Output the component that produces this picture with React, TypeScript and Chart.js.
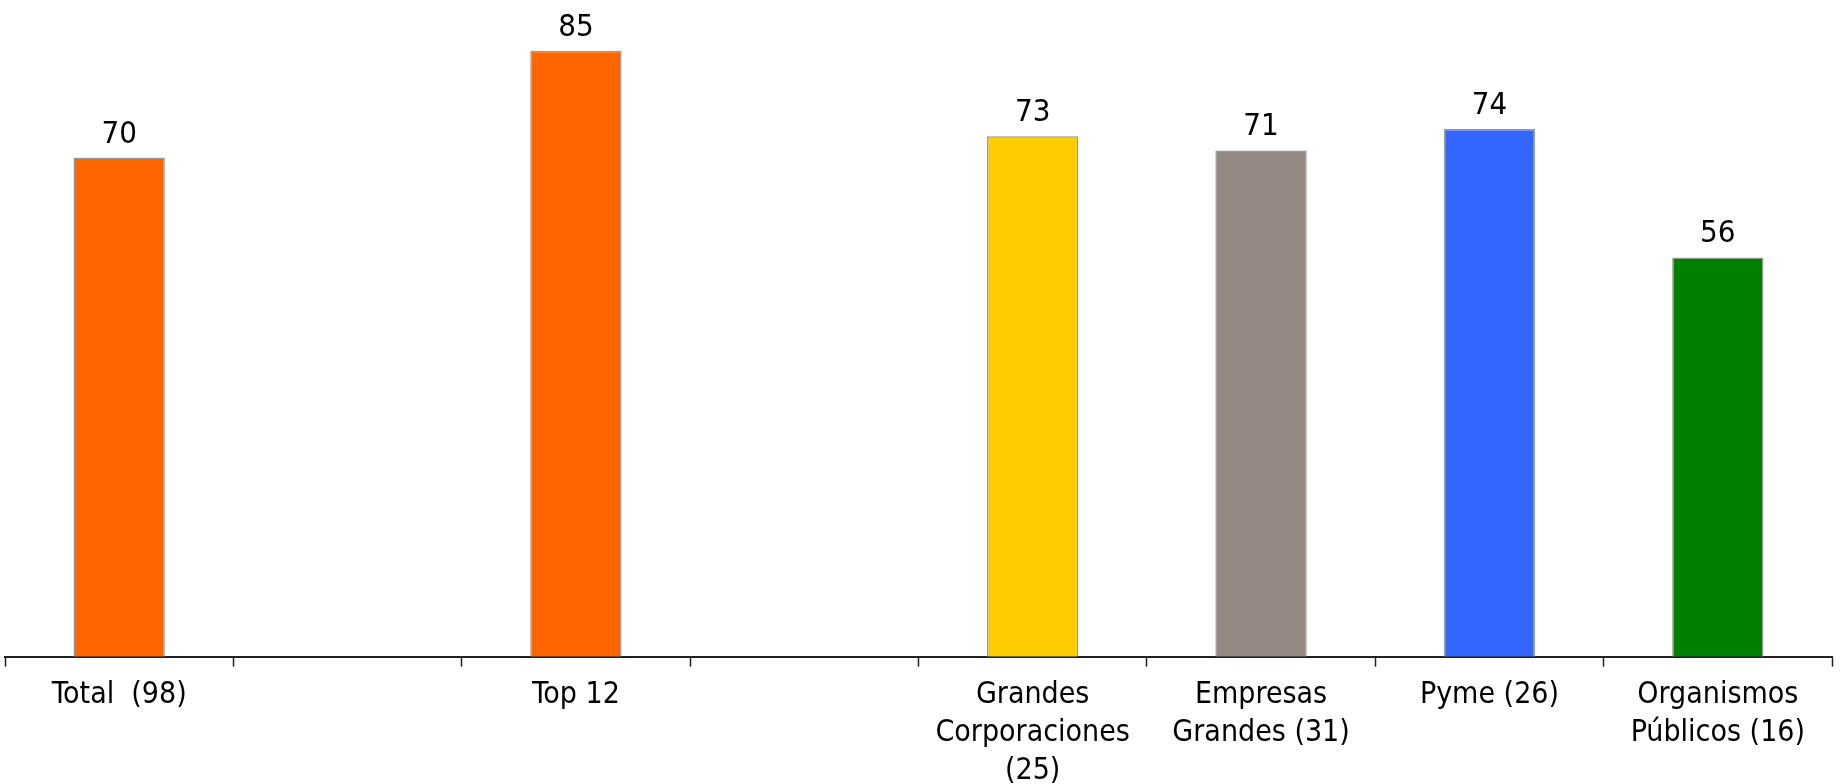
import React, { useEffect, useRef } from "react";
import { Chart, registerables } from "chart.js";

Chart.register(...registerables);

const categories: (string | string[])[] = [
  "Total  (98)",
  "",
  "Top 12",
  "",
  ["Grandes", "Corporaciones", "(25)"],
  ["Empresas", "Grandes (31)"],
  "Pyme (26)",
  ["Organismos", "Públicos (16)"],
];
const values: (number | null)[] = [70, null, 85, null, 73, 71, 74, 56];
const barColors: string[] = [
  "#FF6600",
  "#FF6600",
  "#FF6600",
  "#FF6600",
  "#FFCC00",
  "#948883",
  "#3366FF",
  "#008000",
];

const FONT = "'DejaVu Sans Condensed', 'Liberation Sans Narrow', 'DejaVu Sans', sans-serif";
const CANVAS_H = 799;

const valueLabels = {
  id: "valueLabels",
  afterDatasetsDraw(chart: any) {
    const ctx = chart.ctx;
    const meta = chart.getDatasetMeta(0);
    ctx.save();
    ctx.font = `31px ${FONT}`;
    ctx.fillStyle = "#000";
    ctx.textAlign = "center";
    ctx.textBaseline = "alphabetic";
    meta.data.forEach((bar: any, i: number) => {
      const v = values[i];
      if (v === null || v === undefined) return;
      ctx.fillText(String(v), bar.x, bar.y - 15);
    });
    ctx.restore();
  },
};

export default function App() {
  const ref = useRef<HTMLCanvasElement | null>(null);
  useEffect(() => {
    if (!ref.current) return;
    const chart = new Chart(ref.current, {
      type: "bar",
      data: {
        labels: categories,
        datasets: [
          {
            data: values,
            backgroundColor: barColors,
            borderColor: "#999999",
            borderWidth: 1.5,
            barPercentage: 0.4,
            categoryPercentage: 1,
          },
        ],
      },
      options: {
        animation: false,
        responsive: false,
        maintainAspectRatio: false,
        layout: { padding: { top: 15, left: 5, right: 11, bottom: 0 } },
        plugins: { legend: { display: false }, tooltip: { enabled: false } },
        scales: {
          x: {
            offset: true,
            grid: {
              offset: true,
              drawOnChartArea: false,
              drawTicks: true,
              tickLength: 10,
              tickColor: "#222",
              tickWidth: 1.5,
            },
            border: { display: true, color: "#222", width: 2 },
            ticks: {
              color: "#000",
              font: { family: FONT, size: 30, lineHeight: 1.27 },
              padding: 9,
              maxRotation: 0,
              autoSkip: false,
            },
          },
          y: {
            display: false,
            min: 0,
            max: 90,
          },
        },
      },
      plugins: [valueLabels],
    });
    return () => chart.destroy();
  }, []);
  return (
    <div
      style={{
        position: "fixed",
        left: 0,
        top: 0,
        width: 1843,
        height: 784,
        overflow: "hidden",
        background: "#fff",
      }}
    >
      <canvas ref={ref} width={1843} height={CANVAS_H} style={{ width: 1843, height: CANVAS_H, display: "block" }} />
    </div>
  );
}
